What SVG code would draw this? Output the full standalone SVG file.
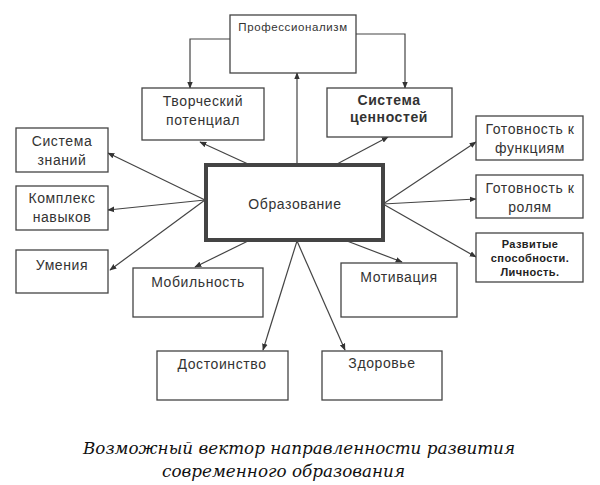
<svg xmlns="http://www.w3.org/2000/svg" width="600" height="485" viewBox="0 0 600 485">
<defs>
<marker id="ah" viewBox="0 0 10 10" refX="9" refY="5" markerWidth="7" markerHeight="7" markerUnits="userSpaceOnUse" orient="auto">
<path d="M0,1 L10,5 L0,9 Z" fill="#333"/>
</marker>
<style>
.box{fill:#fff;stroke:#444;stroke-width:1.3}
.main{fill:#fff;stroke:#444;stroke-width:4}
.t{font-family:"Liberation Sans",Arial,sans-serif;font-size:14px;letter-spacing:0.6px;fill:#333;text-anchor:middle}
.s{font-family:"Liberation Sans",Arial,sans-serif;font-size:11.5px;letter-spacing:0.6px;fill:#333;text-anchor:middle}
.b{font-family:"Liberation Sans",Arial,sans-serif;font-size:11px;letter-spacing:0.4px;font-weight:bold;fill:#222;text-anchor:middle}
.c{stroke:#444;stroke-width:1.2;fill:none;marker-end:url(#ah)}
.cap{font-family:"DejaVu Serif","Liberation Serif",serif;font-style:italic;font-size:17px;fill:#111}
</style>
</defs>
<rect width="600" height="485" fill="#fff"/>
<g id="connectors">
<path class="c" d="M230,39 H190 V88"/>
<path class="c" d="M356,34 H405 V88"/>
<path class="c" d="M297,164 V73"/>
<path class="c" d="M248,164 L200,142"/>
<path class="c" d="M337,164 L388,137"/>
<path class="c" d="M205,200 L108,153"/>
<path class="c" d="M205,200 L108,210"/>
<path class="c" d="M205,200 L110,270"/>
<path class="c" d="M383,204 L476,142"/>
<path class="c" d="M383,204 L476,199"/>
<path class="c" d="M383,204 L476,257"/>
<path class="c" d="M248,241 L195,267"/>
<path class="c" d="M347,241 L402,262"/>
<path class="c" d="M297,241 L263,350"/>
<path class="c" d="M297,241 L345,350"/>
</g>
<g id="prof"><rect class="box" x="230" y="15" width="126" height="58"/><text class="s" x="293" y="31">Профессионализм</text></g>
<g id="tvorch"><rect class="box" x="142" y="88" width="122" height="52"/><text class="t" x="203" y="106">Творческий</text><text class="t" x="203" y="125">потенциал</text></g>
<g id="cennost"><rect class="box" x="327" y="88" width="125" height="49"/><text class="t" x="389" y="105" font-weight="bold" letter-spacing="0.3">Система</text><text class="t" x="389" y="122" font-weight="bold" letter-spacing="0.3">ценностей</text></g>
<g id="znaniy"><rect class="box" x="16" y="128" width="92" height="44"/><text class="t" x="62" y="146">Система</text><text class="t" x="62" y="165">знаний</text></g>
<g id="navykov"><rect class="box" x="16" y="186" width="92" height="44"/><text class="t" x="62" y="203">Комплекс</text><text class="t" x="62" y="222">навыков</text></g>
<g id="umeniya"><rect class="box" x="16" y="250" width="92" height="43"/><text class="t" x="62" y="270">Умения</text></g>
<g id="obraz"><rect class="main" x="206" y="165" width="177" height="75"/><text class="t" x="295" y="209" font-size="17" letter-spacing="0.8">Образование</text></g>
<g id="funk"><rect class="box" x="476" y="116" width="107" height="44"/><text class="t" x="530" y="134">Готовность к</text><text class="t" x="530" y="153">функциям</text></g>
<g id="roli"><rect class="box" x="476" y="175" width="107" height="43"/><text class="t" x="530" y="193">Готовность к</text><text class="t" x="530" y="212">ролям</text></g>
<g id="razv"><rect class="box" x="476" y="233" width="107" height="49"/><text class="b" x="530" y="248">Развитые</text><text class="b" x="530" y="262">способности.</text><text class="b" x="530" y="276">Личность.</text></g>
<g id="mobil"><rect class="box" x="133" y="268" width="130" height="49"/><text class="t" x="198" y="287">Мобильность</text></g>
<g id="motiv"><rect class="box" x="341" y="263" width="116" height="54"/><text class="t" x="399" y="282">Мотивация</text></g>
<g id="dost"><rect class="box" x="157" y="351" width="131" height="49"/><text class="t" x="222" y="369">Достоинство</text></g>
<g id="zdor"><rect class="box" x="322" y="351" width="120" height="49"/><text class="t" x="382" y="368">Здоровье</text></g>
<text class="cap" x="83" y="454" textLength="432" lengthAdjust="spacingAndGlyphs">Возможный вектор направленности развития</text>
<text class="cap" x="162" y="477" textLength="243" lengthAdjust="spacingAndGlyphs">современного образования</text>
</svg>
